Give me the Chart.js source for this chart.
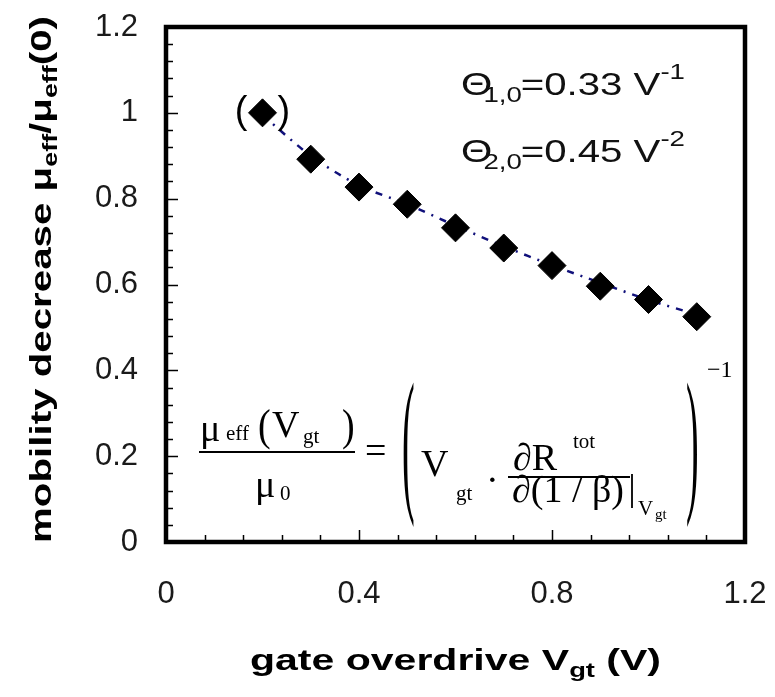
<!DOCTYPE html>
<html>
<head>
<meta charset="utf-8">
<script src="https://cdn.jsdelivr.net/npm/chart.js@4.4.1/dist/chart.umd.min.js"></script>
<style>
  html, body { margin: 0; padding: 0; background: #fff; }
  canvas { display: block; }
</style>
</head>
<body>
<canvas id="chart" width="775" height="697"></canvas>
<script>
// gate overdrive (V)
const vgt = [0.2, 0.3, 0.4, 0.5, 0.6, 0.7, 0.8, 0.9, 1.0, 1.1];
// measured mobility ratio
const mobility = [1.0, 0.892, 0.827, 0.787, 0.732, 0.685, 0.644, 0.596, 0.565, 0.525];
// dash-dot fit curve
const fitLine = [0.995, 0.900, 0.831, 0.787, 0.737, 0.689, 0.645, 0.604, 0.564, 0.530];

const xMin = 0, xMax = 1.2, xStep = 0.4, xMinorStep = 0.08;
const yMin = 0, yMax = 1.2, yStep = 0.2, yMinorStep = 0.04;

const SANS = "'Liberation Sans', Arial, sans-serif";
const SERIF = "'Liberation Serif', 'Times New Roman', serif";

// draw a row of text runs, squeezed/stretched to a target width
function drawRuns(ctx, runs, x, y, targetWidth) {
  let total = 0;
  runs.forEach(r => { ctx.font = r.font; total += ctx.measureText(r.t).width + (r.gap || 0); });
  const sx = targetWidth ? targetWidth / total : 1;
  ctx.save();
  ctx.translate(x, y);
  ctx.scale(sx, 1);
  let cx = 0;
  runs.forEach(r => {
    ctx.font = r.font;
    ctx.fillText(r.t, cx, r.dy || 0);
    cx += ctx.measureText(r.t).width + (r.gap || 0);
  });
  ctx.restore();
}

function txt(ctx, t, x, y, font) {
  ctx.font = font;
  ctx.fillText(t, x, y);
}

function tallGlyph(ctx, t, x, y, font, sy) {
  ctx.save();
  ctx.translate(x, y);
  ctx.scale(1, sy);
  txt(ctx, t, 0, 0, font);
  ctx.restore();
}

const decorations = {
  id: 'decorations',
  afterDraw(chart) {
    const ctx = chart.ctx;
    const area = chart.chartArea;
    const xs = chart.scales.x, ys = chart.scales.y;
    ctx.save();
    ctx.fillStyle = '#000';
    ctx.strokeStyle = '#000';
    ctx.textAlign = 'left';
    ctx.textBaseline = 'alphabetic';

    // inward tick marks
    ctx.lineWidth = 1.5;
    ctx.beginPath();
    for (let v = yMin + yMinorStep; v < yMax - 1e-6; v += yMinorStep) {
      const py = Math.round(ys.getPixelForValue(v)) + 0.5;
      const major = Math.abs(v / yStep - Math.round(v / yStep)) < 1e-6;
      ctx.moveTo(area.left, py);
      ctx.lineTo(area.left + (major ? 12 : 7), py);
    }
    for (let v = xMin + xMinorStep; v < xMax - 1e-6; v += xMinorStep) {
      const px = Math.round(xs.getPixelForValue(v)) + 0.5;
      const major = Math.abs(v / xStep - Math.round(v / xStep)) < 1e-6;
      ctx.moveTo(px, area.bottom);
      ctx.lineTo(px, area.bottom - (major ? 12 : 7));
    }
    ctx.stroke();

    // frame
    ctx.lineWidth = 4.5;
    ctx.strokeRect(area.left, area.top, area.right - area.left, area.bottom - area.top);

    // axis titles
    drawRuns(ctx, [
      { t: 'gate overdrive V', font: 'bold 30px ' + SANS },
      { t: 'gt', font: 'bold 20px ' + SANS, dy: 7 },
      { t: ' (V)', font: 'bold 30px ' + SANS }
    ], 250, 670, 411);

    ctx.save();
    ctx.translate(51, 543);
    ctx.rotate(-Math.PI / 2);
    drawRuns(ctx, [
      { t: 'mobility decrease \u03bc', font: 'bold 30px ' + SANS },
      { t: 'eff', font: 'bold 20px ' + SANS, dy: 6 },
      { t: '/\u03bc', font: 'bold 30px ' + SANS },
      { t: 'eff', font: 'bold 20px ' + SANS, dy: 6 },
      { t: '(0)', font: 'bold 30px ' + SANS }
    ], 0, 0, 527);
    ctx.restore();

    // parameter annotations
    ctx.fillStyle = '#111';
    [[95, '1,0', '0.33', '-1'], [162, '2,0', '0.45', '-2']].forEach(([by, sub, val, sup]) => {
      drawRuns(ctx, [
        { t: '\u0398', font: '32px ' + SANS, gap: -7 },
        { t: sub, font: '22px ' + SANS, dy: 7, gap: -1 },
        { t: '=' + val + ' V', font: '32px ' + SANS, gap: 0 },
        { t: sup, font: '22px ' + SANS, dy: -16 }
      ], 461, by, 224);
    });

    // parentheses around first point
    const p0x = xs.getPixelForValue(vgt[0]);
    const p0y = ys.getPixelForValue(mobility[0]);
    ctx.fillStyle = '#000';
    ctx.font = '38px ' + SANS;
    ctx.textBaseline = 'middle';
    ctx.textAlign = 'right';
    ctx.fillText('(', p0x - 15, p0y);
    ctx.textAlign = 'left';
    ctx.fillText(')', p0x + 15, p0y);
    ctx.textBaseline = 'alphabetic';

    // formula
    const big = '38px ' + SERIF, sm = '21px ' + SERIF, tiny = '15px ' + SERIF;
    txt(ctx, '\u03bc', 200, 441, big);
    txt(ctx, 'eff', 226, 440, sm);
    tallGlyph(ctx, '(', 258, 440, big, 1.15);
    txt(ctx, 'V', 272, 437, big);
    txt(ctx, 'gt', 303, 443, sm);
    tallGlyph(ctx, ')', 342, 440, big, 1.15);
    ctx.lineWidth = 1.8;
    ctx.beginPath();
    ctx.moveTo(199, 452); ctx.lineTo(355, 452);
    ctx.moveTo(508, 477); ctx.lineTo(630, 477);
    ctx.moveTo(632, 474); ctx.lineTo(632, 508);
    ctx.stroke();
    txt(ctx, '\u03bc', 255, 497, big);
    txt(ctx, '0', 280, 500, sm);
    txt(ctx, '=', 365, 463, big);
    tallGlyph(ctx, '(', 402, 493, big, 4.2);
    txt(ctx, 'V', 421, 476, big);
    txt(ctx, 'gt', 456, 500, sm);
    txt(ctx, '\u00b7', 486, 492, big);
    txt(ctx, '\u2202R', 513, 470, big);
    txt(ctx, 'tot', 573, 448, sm);
    txt(ctx, '\u2202(1 / \u03b2)', 512, 502, big);
    txt(ctx, 'V', 638, 515, sm);
    txt(ctx, 'gt', 655, 519, tiny);
    tallGlyph(ctx, ')', 686, 493, big, 4.2);
    txt(ctx, '\u22121', 707, 377, '24px ' + SERIF);

    ctx.restore();
  }
};

new Chart(document.getElementById('chart'), {
  type: 'scatter',
  data: {
    datasets: [
      {
        label: 'measured',
        data: vgt.map((x, i) => ({ x: x, y: mobility[i] })),
        pointStyle: 'rectRot',
        pointRadius: 14,
        pointHoverRadius: 14,
        backgroundColor: '#000',
        borderColor: '#000',
        borderWidth: 1,
        order: 0
      },
      {
        label: 'fit',
        data: vgt.map((x, i) => ({ x: x, y: fitLine[i] })),
        showLine: true,
        pointRadius: 0,
        borderColor: '#10107a',
        borderWidth: 2.5,
        borderDash: [7, 7, 2, 7],
        tension: 0.3,
        fill: false,
        order: 1
      }
    ]
  },
  options: {
    responsive: false,
    animation: false,
    devicePixelRatio: 1,
    layout: { padding: { top: 27, right: 30, left: 0, bottom: 0 } },
    plugins: {
      legend: { display: false },
      tooltip: { enabled: false }
    },
    scales: {
      x: {
        type: 'linear',
        min: xMin,
        max: xMax,
        border: { display: false },
        grid: { display: false, drawTicks: false },
        ticks: {
          stepSize: xStep,
          padding: 34,
          color: '#1a1a1a',
          font: { family: SANS, size: 31 },
          callback: v => String(Number(v.toFixed(2)))
        },
        afterFit: scale => {
          scale.height = 155;
          scale.paddingLeft = 0;
          scale.paddingRight = 0;
        }
      },
      y: {
        type: 'linear',
        min: yMin,
        max: yMax,
        border: { display: false },
        grid: { display: false, drawTicks: false },
        ticks: {
          stepSize: yStep,
          padding: 28,
          color: '#1a1a1a',
          font: { family: SANS, size: 31 },
          callback: v => String(Number(v.toFixed(2)))
        },
        afterFit: scale => {
          scale.width = 166;
          scale.paddingTop = 0;
          scale.paddingBottom = 0;
        }
      }
    }
  },
  plugins: [decorations]
});
</script>
</body>
</html>
